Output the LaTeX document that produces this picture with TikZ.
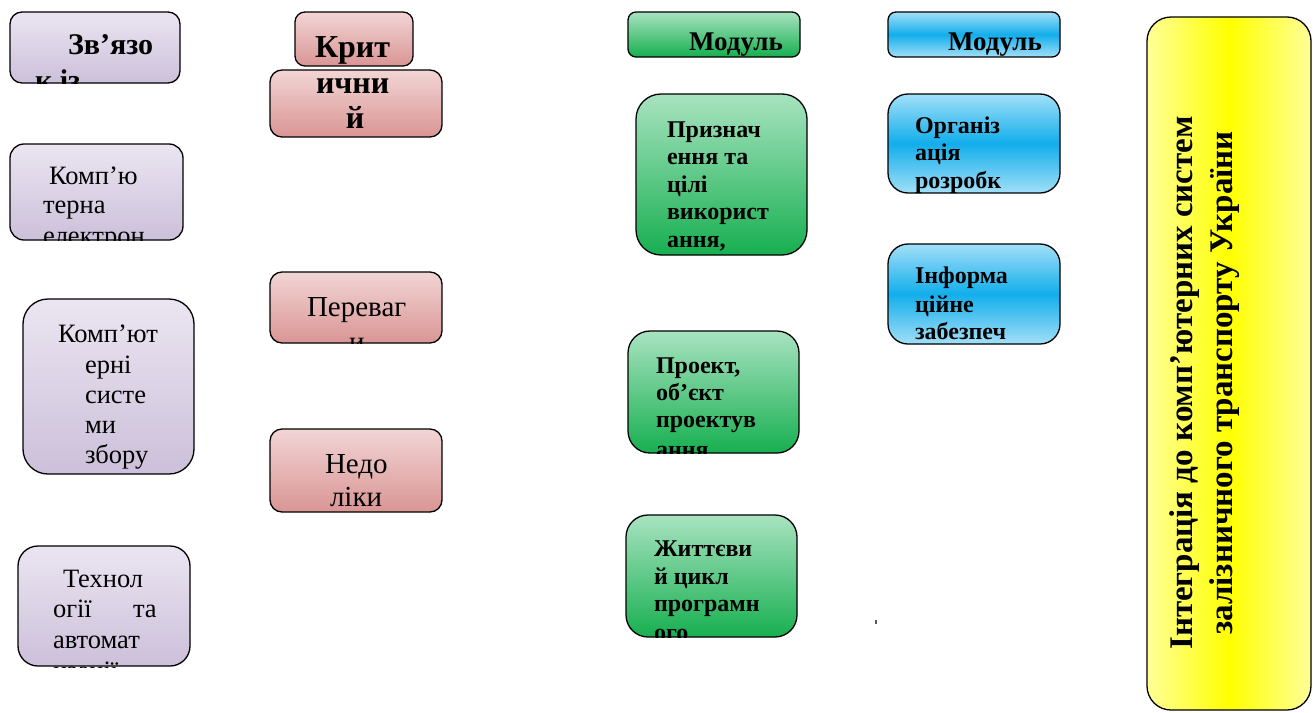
\documentclass[tikz,border=0pt]{standalone}
\usepackage{fontspec}
\setmainfont{Liberation Serif}
\definecolor{purT}{HTML}{EBE5F1}
\definecolor{purB}{HTML}{CCC0DA}
\definecolor{redT}{HTML}{F2D5D5}
\definecolor{redB}{HTML}{D99594}
\definecolor{grnT}{HTML}{A8E3C0}
\definecolor{grnB}{HTML}{17AF50}
\definecolor{bluL}{HTML}{A2DFF8}
\definecolor{bluD}{HTML}{12AEEB}
\definecolor{yelL}{HTML}{FFFF99}
\definecolor{yelD}{HTML}{FFFF00}
\tikzset{
  box/.style={draw=black, line width=1.3pt},
  pur/.style={box, top color=purT, bottom color=purB},
  rd/.style={box, top color=redT, bottom color=redB},
  grn/.style={box, top color=grnT, bottom color=grnB},
  blu/.style={box, top color=bluL, bottom color=bluL, middle color=bluD},
  yel/.style={box, left color=yelL, right color=yelL, middle color=yelD},
  tl/.style={anchor=base west, inner sep=0pt, outer sep=0pt},
  tc/.style={anchor=base, inner sep=0pt, outer sep=0pt},
  fa/.style={font=\bfseries\fontsize{30}{34}\selectfont},
  fb/.style={font=\fontsize{26.5}{30}\selectfont},
  fc/.style={font=\bfseries\fontsize{32}{36}\selectfont},
  fd/.style={font=\fontsize{29}{32}\selectfont},
  fe/.style={font=\bfseries\fontsize{27}{30}\selectfont},
  ff/.style={font=\bfseries\fontsize{24}{28}\selectfont},
}
\begin{document}
\begin{tikzpicture}[x=1pt,y=-1pt]
\useasboundingbox (0,0) rectangle (1313,712);

% ---------- purple column ----------
\path[pur, rounded corners=12] (10,12) rectangle (180,83);
\begin{scope}\clip[rounded corners=12] (10,12) rectangle (180,83);
\node[tl,fa] (p1a) at (68,54) {Зв\symbol{"0027}язо};
\node[tl,fa] (p1b) at (35,90) {к із};
\end{scope}

\path[pur, rounded corners=14] (10,144) rectangle (183,240);
\begin{scope}\clip[rounded corners=14] (10,144) rectangle (183,240);
\node[tl,fb] (p2a) at (49,184) {Комп’ю};
\node[tl,fb] (p2b) at (43,213) {терна};
\node[tl,fb] (p2c) at (43,244) {електрон};
\end{scope}

\path[pur, rounded corners=25] (23,299) rectangle (194,474);
\begin{scope}\clip[rounded corners=25] (23,299) rectangle (194,474);
\node[tl,fb] (p3a) at (58,342) {Комп’ют};
\node[tl,fb] (p3b) at (85,373) {ерні};
\node[tl,fb] (p3c) at (85,403) {систе};
\node[tl,fb] (p3d) at (85,433) {ми};
\node[tl,fb] (p3e) at (85,463) {збору};
\end{scope}

\path[pur, rounded corners=20] (18,546) rectangle (190,666);
\begin{scope}\clip[rounded corners=20] (18,546) rectangle (190,667);
\node[tl,fb] (p4a) at (63,587) {Технол};
\node[tl,fb] (p4b) at (53,617) {огії};
\node[tl,fb] (p4c) at (133,617) {та};
\node[tl,fb] (p4d) at (53,648) {автомат};
\node[tl,fb] (p4e) at (53,679) {изації};
\end{scope}

% ---------- red column ----------
\path[rd, rounded corners=10] (295,12) rectangle (413,66);
\begin{scope}\clip[rounded corners=10] (295,12) rectangle (413,66);
\node[tl,fc] (r1a) at (315,57) {Крит};
\end{scope}

\path[rd, rounded corners=12] (270,70) rectangle (442,137);
\begin{scope}\clip[rounded corners=12] (270,70) rectangle (442,137);
\node[tl,fc] (r2a) at (316,93) {ични};
\node[tc,fc] (r2b) at (355,128) {й};
\end{scope}

\path[rd, rounded corners=12] (270,272) rectangle (442,343);
\begin{scope}\clip[rounded corners=12] (270,272) rectangle (442,343);
\node[tl,fd] (r3a) at (307,316) {Переваг};
\node[tc,fd] (r3b) at (357,351) {и};
\end{scope}

\path[rd, rounded corners=12] (270,429) rectangle (442,512);
\begin{scope}\clip[rounded corners=12] (270,429) rectangle (442,512);
\node[tl,fd] (r4a) at (325,473) {Недо};
\node[tl,fd] (r4b) at (330,506) {ліки};
\end{scope}

% ---------- green column ----------
\path[grn, rounded corners=8] (628,12) rectangle (800,57);
\node[tl,fe] (g0) at (689,50) {Модуль};

\path[grn, rounded corners=25] (636,94) rectangle (807,255);
\begin{scope}\clip[rounded corners=25] (636,94) rectangle (807,255);
\node[tl,ff] (g1a) at (667,137) {Признач};
\node[tl,ff] (g1b) at (667,164) {ення та};
\node[tl,ff] (g1c) at (667,192) {цілі};
\node[tl,ff] (g1d) at (667,219) {використ};
\node[tl,ff] (g1e) at (667,247) {ання,};
\end{scope}

\path[grn, rounded corners=22] (628,331) rectangle (799,453);
\begin{scope}\clip[rounded corners=22] (628,331) rectangle (799,453);
\node[tl,ff] (g2a) at (656,373) {Проект,};
\node[tl,ff] (g2b) at (656,400) {об’єкт};
\node[tl,ff] (g2c) at (656,427) {проектув};
\node[tl,ff] (g2d) at (656,457) {ання};
\end{scope}

\path[grn, rounded corners=22] (626,515) rectangle (797,637);
\begin{scope}\clip[rounded corners=22] (626,515) rectangle (797,637);
\node[tl,ff] (g3a) at (654,556) {Життєви};
\node[tl,ff] (g3b) at (654,584) {й цикл};
\node[tl,ff] (g3c) at (654,611) {програмн};
\node[tl,ff] (g3d) at (654,640) {ого};
\end{scope}

% ---------- blue column ----------
\path[blu, rounded corners=8] (888,12) rectangle (1060,57);
\node[tl,fe] (b0) at (948,50) {Модуль};

\path[blu, rounded corners=20] (888,94) rectangle (1060,193);
\begin{scope}\clip[rounded corners=20] (888,94) rectangle (1060,193);
\node[tl,ff] (b1a) at (915,133) {Організ};
\node[tl,ff] (b1b) at (915,160) {ація};
\node[tl,ff] (b1c) at (915,188) {розробк};
\end{scope}

\path[blu, rounded corners=20] (888,244) rectangle (1060,344);
\begin{scope}\clip[rounded corners=20] (888,244) rectangle (1060,344);
\node[tl,ff] (b2a) at (915,283) {Інформа};
\node[tl,ff] (b2b) at (915,312) {ційне};
\node[tl,ff] (b2c) at (915,339) {забезпеч};
\end{scope}

\fill[black!65] (875.4,619.5) rectangle (876.6,623.5);

% ---------- yellow title ----------
\path[yel, rounded corners=24] (1147,17) rectangle (1311,710);
\node[rotate=90, align=center, inner sep=0pt, font=\bfseries\fontsize{33}{40}\selectfont] (title) at (1205,383)
  {Інтеграція до комп’ютерних систем\\залізничного транспорту України};
\end{tikzpicture}
\end{document}
